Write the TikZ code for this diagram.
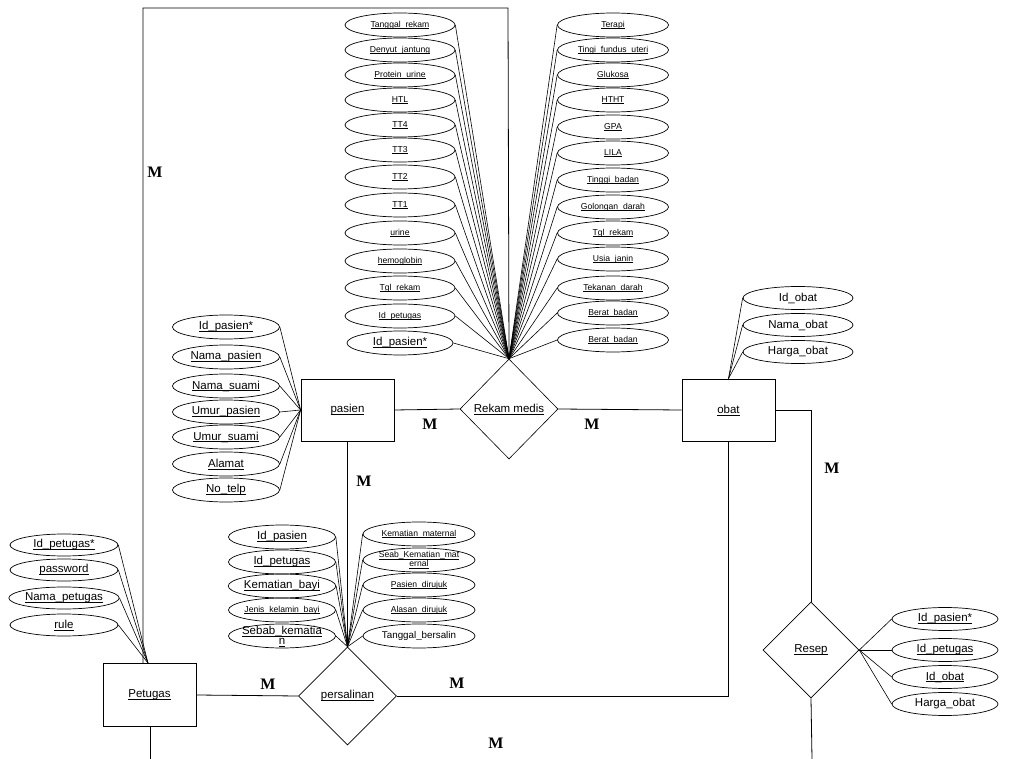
\documentclass[tikz,border=0pt]{standalone}
\usepackage{fontspec}
\setmainfont{Liberation Sans}
\newfontfamily\mfont{Liberation Serif}
\usetikzlibrary{shapes.geometric}
\newcommand\myul[1]{\sbox0{#1}\usebox0\llap{\rule[-0.17em]{\wd0}{0.055em}}}
\begin{document}
\begin{tikzpicture}[x=1pt,y=-1pt,
  big/.style={font=\fontsize{11.5}{12}\selectfont},
  sml/.style={font=\fontsize{8.6}{10}\selectfont},
  ent/.style={draw, rectangle, inner sep=0, minimum width=93pt, minimum height=62pt, line width=0.8pt, big},
  rel/.style={draw, diamond, inner sep=0, minimum width=98pt, minimum height=98pt, line width=0.6pt, big},
  attr/.style={draw, ellipse, inner sep=0, minimum width=110pt, minimum height=24pt, line width=0.7pt},
  card/.style={font=\mfont\bfseries\fontsize{16}{18}\selectfont, inner sep=0},
  conn/.style={draw, line width=0.8pt}
]
\useasboundingbox[fill=white] (0,0) rectangle (1010,759);

% entities and relationships
\node[ent] (pasien) at (347.5,410) {\myul{pasien}};
\node[ent, minimum height=63pt] (petugas) at (149.5,695) {\myul{Petugas}};
\node[ent] (obat) at (728.5,410) {\myul{obat}};
\node[rel, minimum height=100pt] (rekam) at (509,409) {\myul{Rekam medis}};
\node[rel] (persalinan) at (347.5,696) {\myul{persalinan}};
\node[rel, minimum width=96pt, minimum height=96pt] (resep) at (811,650) {\myul{Resep}};

% coordinates
\coordinate (ptop) at ([xshift=-6.5pt]petugas.north);
\coordinate (frameL) at (143,8);
\coordinate (frameR) at (508,8);
\coordinate (pconv) at ([xshift=-1.5pt]petugas.north);
\coordinate (pbot) at (150.5,759);
\coordinate (rbot) at (812,759);

% main connectors
\draw[conn] (ptop) -- (frameL) -- (frameR) -- (rekam.north);
\draw[conn] (pasien.east) -- (rekam.west);
\draw[conn] (rekam.east) -- (obat.west);
\draw[conn] (pasien.south) -- (persalinan.north);
\draw[conn] (petugas.east) -- (persalinan.west);
\draw[conn] (persalinan.east) -| (obat.south);
\draw[conn] (obat.east) -| (resep.north);
\draw[conn] (resep.south) -- (rbot);
\draw[conn] ([xshift=1pt]petugas.south) -- (pbot);

% Rekam medis attributes, left column
\foreach \y/\t [count=\i] in {25/Tanggal\_rekam, 50/Denyut\_jantung, 75/Protein\_urine, 100/HTL, 125/TT4, 150/TT3, 177/TT2, 205/TT1, 233/urine, 261/hemoglobin, 288/Tgl\_rekam, 316/Id\_petugas}{
  \node[attr, sml] (rl\i) at (400,\y) {\myul{\t}};
  \draw[conn, line width=0.6pt] (rl\i.east) -- (rekam.north);
}
\node[attr, big, minimum width=106pt] (rl13) at (400,343) {\myul{Id\_pasien*}};
\draw[conn, line width=0.6pt] (rl13.east) -- (rekam.north);

% Rekam medis attributes, right column
\foreach \y/\t [count=\i] in {25/Terapi, 50/Tingi\_fundus\_uteri, 75/Glukosa, 100/HTHT, 127/GPA, 153/LILA, 180/Tinggi\_badan, 207/Golongan\_darah, 233/Tgl\_rekam, 259/Usia\_janin, 288/Tekanan\_darah, 313/Berat\_badan, 340/Berat\_badan}{
  \node[attr, sml, minimum width=111pt] (rr\i) at (613,\y) {\myul{\t}};
  \draw[conn, line width=0.6pt] (rr\i.west) -- (rekam.north);
}

% pasien attributes
\foreach \y/\t [count=\i] in {327/Id\_pasien*, 357/Nama\_pasien, 386/Nama\_suami, 412/Umur\_pasien, 437/Umur\_suami, 464/Alamat, 490/No\_telp}{
  \node[attr, big, minimum width=107pt, minimum height=24pt] (pa\i) at (226,\y) {\myul{\t}};
  \draw[conn, line width=0.6pt] (pa\i.east) -- (pasien.west);
}

% obat attributes
\foreach \y/\t [count=\i] in {298/Id\_obat, 325/Nama\_obat, 352/Harga\_obat}{
  \node[attr, big, minimum width=110pt, minimum height=23pt] (ob\i) at (798,\y) {\t};
  \draw[conn, line width=0.6pt] (ob\i.west) -- (obat.north);
}

% Petugas attributes
\foreach \y/\t [count=\i] in {545/Id\_petugas*, 570/password, 598/Nama\_petugas, 625/rule}{
  \node[attr, big, minimum width=108pt, minimum height=22pt] (pt\i) at (64,\y) {\myul{\t}};
  \draw[conn, line width=0.6pt] (pt\i.east) -- (pconv);
}

% Resep attributes
\node[attr, big, minimum width=106pt, minimum height=23pt] (rs1) at (945,619) {\myul{Id\_pasien*}};
\node[attr, big, minimum width=106pt, minimum height=23pt] (rs2) at (945,650) {\myul{Id\_petugas}};
\node[attr, big, minimum width=106pt, minimum height=23pt] (rs3) at (945,677) {\myul{Id\_obat}};
\node[attr, big, minimum width=106pt, minimum height=23pt] (rs4) at (945,704) {Harga\_obat};
\foreach \i in {1,...,4}{
  \draw[conn, line width=0.6pt] (rs\i.west) -- (resep.east);
}

% persalinan attributes, left
\node[attr, big, minimum width=107pt] (pl1) at (282,537) {\myul{Id\_pasien}};
\node[attr, big, minimum width=107pt] (pl2) at (282,562) {\myul{Id\_petugas}};
\node[attr, big, minimum width=107pt] (pl3) at (282,586) {\myul{Kematian\_bayi}};
\node[attr, sml, minimum width=107pt] (pl4) at (282,610) {\myul{Jenis\_kelamin\_bayi}};
\node[attr, minimum width=107pt, label={[big, align=center, inner sep=0]center:{\myul{Sebab\_kematia}\\[-2pt]\myul{n}}}] (pl5) at (282,636) {};
\foreach \i in {1,...,5}{
  \draw[conn, line width=0.6pt] (pl\i.east) -- (persalinan.north);
}

% persalinan attributes, right
\node[attr, sml, minimum width=112pt] (pr1) at (419,534) {\myul{Kematian\_maternal}};
\node[attr, minimum width=112pt, label={[sml, align=center, inner sep=0]center:{\myul{Seab\_Kematian\_mat}\\[-1pt]\myul{ernal}}}] (pr2) at (419,560) {};
\node[attr, sml, minimum width=112pt] (pr3) at (419,585) {\myul{Pasien\_dirujuk}};
\node[attr, sml, minimum width=112pt] (pr4) at (419,610) {\myul{Alasan\_dirujuk}};
\node[attr, font=\fontsize{9.8}{11}\selectfont, minimum width=112pt] (pr5) at (419,636) {Tanggal\_bersalin};
\foreach \i in {1,...,5}{
  \draw[conn, line width=0.6pt] (pr\i.west) -- (persalinan.north);
}

% cardinalities
\node[card] (m1) at (155,172) {M};
\node[card] (m2) at (430,424) {M};
\node[card] (m3) at (592,424) {M};
\node[card] (m4) at (364,481) {M};
\node[card] (m5) at (832,468) {M};
\node[card] (m6) at (268,684) {M};
\node[card] (m7) at (457,683) {M};
\node[card] (m8) at (496,743) {M};
\end{tikzpicture}
\end{document}
